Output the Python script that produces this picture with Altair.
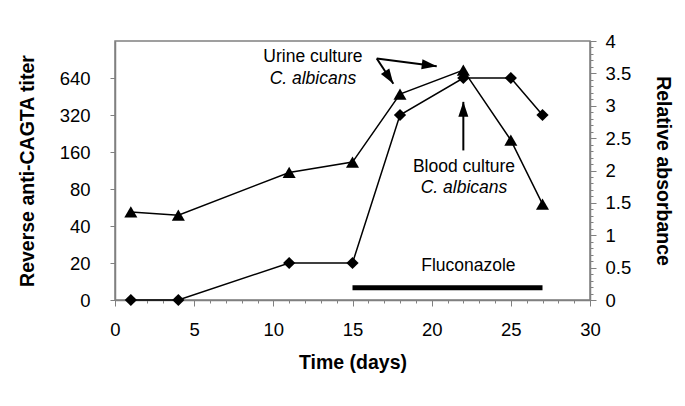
import math
import altair as alt
import pandas as pd

# ---- data ----
days = [1, 4, 11, 15, 18, 22, 25, 27]
titer = [0, 0, 20, 20, 320, 640, 640, 320]
absorbance = [1.36, 1.31, 1.97, 2.13, 3.18, 3.55, 2.47, 1.48]

titer_ticks = [0, 20, 40, 80, 160, 320, 640]
abs_major = [0, 0.5, 1, 1.5, 2, 2.5, 3, 3.5, 4]
abs_minor = [round(i * 0.1, 1) for i in range(41)]
day_major = [0, 5, 10, 15, 20, 25, 30]
day_minor = list(range(31))

# annotations (day, relative absorbance units)
urine_lines = ["Urine culture", "C. albicans"]
urine_text_x = [12.5, 12.5]
urine_text_y = [3.67, 3.34]
blood_lines = ["Blood culture", "C. albicans"]
blood_text_x = [22.04, 22.04]
blood_text_y = [1.98, 1.66]
arrow_x1 = [16.53, 16.53, 22.0]
arrow_y1 = [3.73, 3.73, 2.31]
arrow_x2 = [17.58, 20.32, 22.0]
arrow_y2 = [3.34, 3.61, 3.06]
fluco_label = "Fluconazole"
fluco_label_x = 22.32
fluco_label_y = 0.45
fluco_start = 15
fluco_end = 27
fluco_y = 0.19

# ---- layout ----
W, H = 475, 259
FONT = "Liberation Sans"

df = pd.DataFrame({
    "day": days,
    "slot": [titer_ticks.index(t) for t in titer],
    "val": absorbance,
})

px_x = W / 30
px_y = H / 4
angles = [
    math.degrees(math.atan2((x2 - x1) * px_x, (y2 - y1) * px_y)) % 360
    for x1, y1, x2, y2 in zip(arrow_x1, arrow_y1, arrow_x2, arrow_y2)
]
arrows = pd.DataFrame({"day": arrow_x1, "val": arrow_y1, "day2": arrow_x2,
                       "val2": arrow_y2, "ang": angles})

texts_normal = pd.DataFrame({
    "day": [urine_text_x[0], blood_text_x[0], fluco_label_x],
    "val": [urine_text_y[0], blood_text_y[0], fluco_label_y],
    "t": [urine_lines[0], blood_lines[0], fluco_label],
})
texts_italic = pd.DataFrame({
    "day": [urine_text_x[1], blood_text_x[1]],
    "val": [urine_text_y[1], blood_text_y[1]],
    "t": [urine_lines[1], blood_lines[1]],
})
bar = pd.DataFrame({"day": [fluco_start], "day2": [fluco_end], "val": [fluco_y]})
minor_df = pd.DataFrame({"day": [0, 30], "val": [0, 4]})

x_scale = alt.Scale(domain=[0, 30], nice=False, zero=False)
right_scale = alt.Scale(domain=[0, 4], nice=False, zero=False)

x_main_axis = alt.Axis(
    orient="bottom",
    values=day_major,
    tickSize=6,
    labelOverlap=False,
    labelFlush=False,
    labelPadding=14,
    title="Time (days)",
    titlePadding=15,
    grid=False,
)
x_main = alt.X("day:Q", scale=x_scale, axis=x_main_axis)
x_plain = alt.X("day:Q", scale=x_scale, axis=None)

left_labels = "[" + ",".join("'%d'" % t for t in titer_ticks) + "][datum.value]"
y_left = alt.Y(
    "slot:Q",
    scale=alt.Scale(domain=[0, 7], nice=False, zero=False),
    axis=alt.Axis(
        orient="left",
        values=list(range(len(titer_ticks))),
        labelExpr=left_labels,
        tickSize=5,
        labelPadding=20,
        title="Reverse anti-CAGTA titer",
        titlePadding=22,
        grid=False,
        labelOverlap=False,
        labelFlush=False,
    ),
)

right_axis = alt.Axis(
    orient="right",
    values=abs_major,
    format=".1~f",
    tickSize=6,
    labelPadding=9,
    title="Relative absorbance",
    titlePadding=22,
    grid=False,
    labelOverlap=False,
    labelFlush=False,
)


def y_right():
    return alt.Y("val:Q", scale=right_scale, axis=right_axis)


# invisible layer carrying only the minor-tick axes
minor_layer = alt.Chart(minor_df).mark_point(opacity=0).encode(
    x=alt.X("day:Q", scale=x_scale,
            axis=alt.Axis(orient="bottom", values=day_minor, tickSize=3, labels=False,
                          domain=False, title=None, grid=False)),
    y=alt.Y("val:Q", scale=right_scale,
            axis=alt.Axis(orient="right", values=abs_minor, tickSize=3, labels=False,
                          domain=False, title=None, grid=False)),
)

base = alt.Chart(df)

diamond_line = base.mark_line(color="black", strokeWidth=1.5).encode(x=x_main, y=y_left)
diamond_pts = base.mark_point(shape="diamond", size=150, filled=True, color="black",
                              opacity=1).encode(x=x_main, y=y_left)
left_layer = alt.layer(diamond_line, diamond_pts)

tri_line = base.mark_line(color="black", strokeWidth=1.5).encode(x=x_plain, y=y_right())
tri_pts = base.mark_point(shape="triangle-up", size=170, filled=True, color="black",
                          opacity=1).encode(x=x_plain, y=y_right())

arrow_rules = alt.Chart(arrows).mark_rule(color="black", strokeWidth=2).encode(
    x=x_plain, y=y_right(), x2="day2:Q", y2="val2:Q")
arrow_heads = alt.Chart(arrows).mark_point(
    shape="M0,0L0.5,1.5L-0.5,1.5Z", size=400, filled=True, color="black", opacity=1
).encode(x=alt.X("day2:Q", scale=x_scale, axis=None),
         y=alt.Y("val2:Q", scale=right_scale, axis=right_axis),
         angle=alt.Angle("ang:Q", scale=None))

txt1 = alt.Chart(texts_normal).mark_text(
    font=FONT, fontSize=17.5, color="black", align="center", baseline="alphabetic"
).encode(x=x_plain, y=y_right(), text="t:N")
txt2 = alt.Chart(texts_italic).mark_text(
    font=FONT, fontSize=17.5, fontStyle="italic", color="black", align="center",
    baseline="alphabetic"
).encode(x=x_plain, y=y_right(), text="t:N")

fluco_bar = alt.Chart(bar).mark_rule(color="black", strokeWidth=5).encode(
    x=x_plain, x2="day2:Q", y=y_right())

right_layer = alt.layer(tri_line, tri_pts, arrow_rules, arrow_heads, txt1, txt2, fluco_bar)

chart = (
    alt.layer(minor_layer, left_layer, right_layer)
    .resolve_scale(y="independent")
    .resolve_axis(x="independent", y="independent")
    .properties(
        width=W,
        height=H,
        autosize=alt.AutoSizeParams(type="none"),
        padding={"left": 107, "top": 33, "right": 85, "bottom": 90},
    )
    .configure_view(stroke="#808080", strokeWidth=1.5)
    .configure_axis(
        domainColor="#808080",
        domainWidth=1.5,
        tickColor="#808080",
        tickWidth=1,
        labelFont=FONT,
        labelFontSize=18.5,
        labelColor="black",
        titleFont=FONT,
        titleFontSize=19.5,
        titleFontWeight="bold",
        titleColor="black",
    )
)

chart.save("out.html", embed_options={"renderer": "svg", "actions": False})
